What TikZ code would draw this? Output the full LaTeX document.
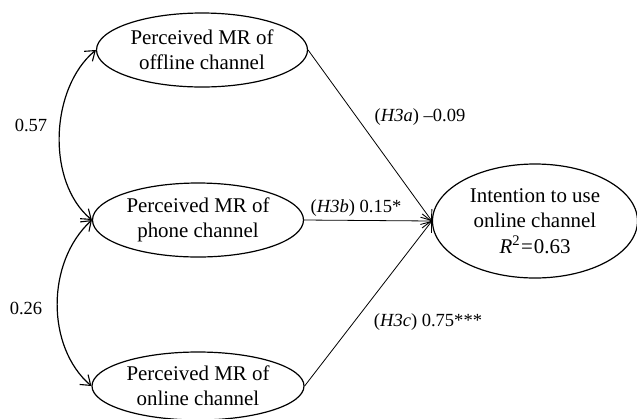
\documentclass[tikz,border=0pt]{standalone}
\usepackage{fontspec}
\setmainfont{Liberation Serif}
\usetikzlibrary{shapes.geometric,arrows.meta}
\begin{document}
\begin{tikzpicture}[x=1bp,y=-1bp,
  construct/.style={draw,ellipse,line width=1.2bp,inner sep=0pt,align=center,
    font=\fontsize{21}{25.5}\selectfont},
  path/.style={line width=0.8bp,-{Straight Barb[length=9bp,width=14bp,line width=0.9bp]}},
  corr/.style={line width=1.2bp,{Straight Barb[length=9bp,width=13bp,line width=1.1bp]}-{Straight Barb[length=9bp,width=13bp,line width=1.1bp]}},
  lab/.style={inner sep=0pt,font=\fontsize{18.6}{22}\selectfont}]
\useasboundingbox (0,0) rectangle (637,418);
\node[construct,minimum width=211bp,minimum height=74bp] (off) at (202,50) {Perceived MR of\\offline channel};
\node[construct,minimum width=211bp,minimum height=74bp] (ph) at (198,220) {Perceived MR of\\phone channel};
\node[construct,minimum width=212bp,minimum height=68bp] (on) at (198,386) {Perceived MR of\\online channel};
\node[construct,minimum width=205bp,minimum height=114bp] (tgt) at (535,221) {Intention to use\\online channel\\{\itshape R}\textsuperscript{2}\kern1bp=\kern1bp0.63};
\draw[path] (off.east) -- (tgt.west);
\draw[path] (ph.east) -- (tgt.west);
\draw[path] (on.east) -- (tgt.west);
\draw[corr] (off.west) .. controls (50,88) and (46,182) .. (ph.west);
\draw[corr] (ph.west) .. controls (46,262) and (46,347) .. (on.west);
\node[lab] (l57) at (31,125) {0.57};
\node[lab] (l26) at (26,308) {0.26};
\node[lab] (h3a) at (420,117) {(\textit{H3a}) --0.09};
\node[lab] (h3b) at (356,208) {(\textit{H3b}) 0.15*};
\node[lab] (h3c) at (428,322) {(\textit{H3c}) 0.75***};
\end{tikzpicture}
\end{document}
